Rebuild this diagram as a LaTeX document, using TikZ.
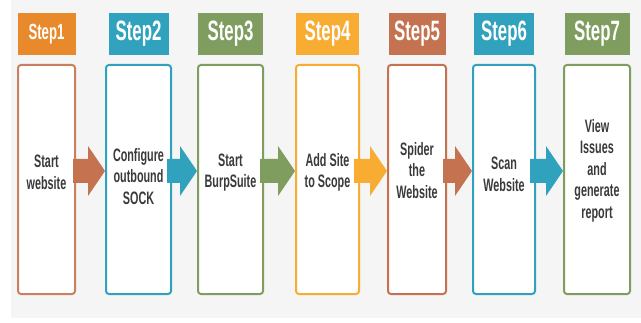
\documentclass[tikz,border=0pt]{standalone}
\usepackage{fontspec}
\setmainfont{Liberation Sans}[FakeStretch=0.6]
\usepackage{tikz}
\usetikzlibrary{calc,positioning}
\definecolor{bg}{HTML}{F5F5F5}
\definecolor{ink}{HTML}{3A3A3A}
\definecolor{orng}{HTML}{E8892B}
\definecolor{rust}{HTML}{C4724F}
\definecolor{rustl}{HTML}{CC7E60}
\definecolor{tealc}{HTML}{31A2BE}
\definecolor{grn}{HTML}{7E9D5F}
\definecolor{amber}{HTML}{F9AC32}
\tikzset{
  head/.style={fill=#1, text=white, font=\bfseries\fontsize{28}{28}\selectfont, minimum height=42pt, inner sep=0pt},
  body/.style={draw=#1, fill=white, line width=2pt, rounded corners=3pt, minimum height=229pt, inner sep=0pt},
  txt/.style={text=ink, font=\bfseries\fontsize{18}{21.5}\selectfont, align=center, inner sep=1pt},
}

\begin{document}
\begin{tikzpicture}[x=1pt,y=1pt]
  \useasboundingbox (0,0) rectangle (641,322);
  \fill[bg] (11,4) rectangle (641,322);
  % step boxes
  \node[body=rustl, minimum width=57pt] (b1) at (46.5,142.5) {};
  \node[body=tealc, minimum width=65pt] (b2) at (138.5,142.5) {};
  \node[body=grn, minimum width=65pt] (b3) at (230.5,142.5) {};
  \node[body=amber, minimum width=63pt] (b4) at (327.5,142.5) {};
  \node[body=rust, minimum width=58pt] (b5) at (417,142.5) {};
  \node[body=tealc, minimum width=62pt] (b6) at (504,142.5) {};
  \node[body=grn, minimum width=66pt] (b7) at (597,142.5) {};
  % headers
  \node[head=orng, minimum width=58pt, font=\bfseries\fontsize{22}{22}\selectfont, above=9pt of b1] (h1) {Step1};
  \node[head=tealc, minimum width=60pt, above=9pt of b2] (h2) {Step2};
  \node[head=grn, minimum width=65pt, above=9pt of b3] (h3) {Step3};
  \node[head=amber, minimum width=63pt, above=9pt of b4] (h4) {Step4};
  \node[head=rust, minimum width=57pt, above=9pt of b5] (h5) {Step5};
  \node[head=tealc, minimum width=60pt, above=9pt of b6] (h6) {Step6};
  \node[head=grn, minimum width=65pt, above=9pt of b7] (h7) {Step7};
  % texts
  \node[txt] (t1) at ([yshift=7pt]b1.center) {Start\\website};
  \node[txt] (t2) at ([yshift=3pt]b2.center) {Configure\\outbound\\SOCK};
  \node[txt] (t3) at ([yshift=7pt]b3.center) {Start\\BurpSuite};
  \node[txt] (t4) at ([yshift=7pt]b4.center) {Add Site\\to Scope};
  \node[txt] (t5) at ([yshift=9pt]b5.center) {Spider\\the\\Website};
  \node[txt] (t6) at ([yshift=5pt]b6.center) {Scan\\Website};
  \node[txt] (t7) at ([yshift=9pt]b7.center) {View\\Issues\\and\\generate\\report};
  % arrows
  \coordinate (mid) at (0,151);
  \foreach \from/\to/\col/\ins in {b1/b2/rust/3, b2/b3/tealc/5, b3/b4/grn/4, b4/b5/amber/6, b5/b6/rust/4, b6/b7/tealc/6}
    \fill[\col] ($(\from.east |- mid)+(-\ins,12)$) -- ($(\to.west |- mid)+(-17,12)$)
      -- ($(\to.west |- mid)+(-17,25)$) -- (\to.west |- mid)
      -- ($(\to.west |- mid)+(-17,-25)$) -- ($(\to.west |- mid)+(-17,-12)$)
      -- ($(\from.east |- mid)+(-\ins,-12)$) -- cycle;
\end{tikzpicture}
\end{document}
